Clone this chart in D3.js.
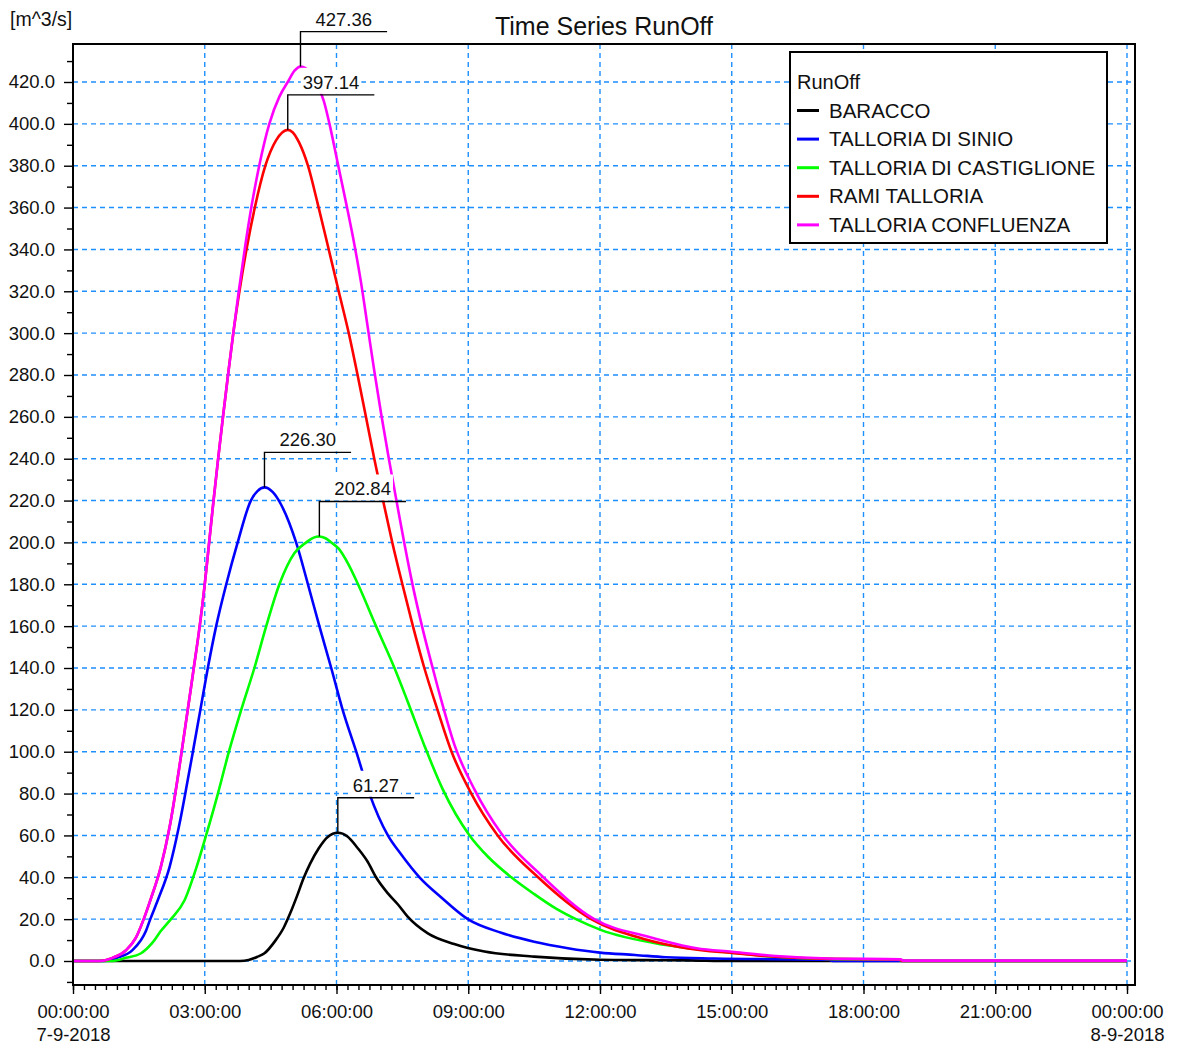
<!DOCTYPE html>
<html>
<head>
<meta charset="utf-8">
<script src="https://cdn.jsdelivr.net/npm/d3@7"></script>
<style>
  html, body { margin: 0; padding: 0; background: #fff; }
  text { font-family: "Liberation Sans", Arial, sans-serif; fill: #111; }
</style>
</head>
<body>
<div id="chart"></div>
<script>
// Time Series RunOff — hydrographs for 7-9-2018
// values (hours since 00:00, m^3/s)

const seriesNames  = ['BARACCO', 'TALLORIA DI SINIO', 'TALLORIA DI CASTIGLIONE', 'RAMI TALLORIA', 'TALLORIA CONFLUENZA'];
const seriesColors = ['#000000', '#0000ff', '#00ff00', '#ff0000', '#ff00ff'];

const baraccoT = [0, 3.8, 4.0, 4.2, 4.36, 4.6, 4.8, 4.95, 5.1, 5.25, 5.4, 5.6, 5.8, 6.03, 6.25, 6.48, 6.71, 6.9, 7.17, 7.4, 7.62, 8.08, 8.68, 9.37, 10.5, 12, 13, 14, 15, 24];
const baraccoQ = [0, 0, 0.5, 2, 3.7, 9.5, 16, 23, 31, 39.5, 46.5, 54, 59.3, 61.27, 59.5, 54, 47.4, 40, 32.3, 27, 21.2, 13.2, 8.1, 4.5, 2.1, 0.6, 0.4, 0.3, 0, 0];

const sinioT = [0, 0.7, 1.0, 1.36, 1.66, 1.76, 1.93, 2.2, 2.41, 2.6, 2.73, 2.9, 3.07, 3.26, 3.49, 3.75, 4.05, 4.2, 4.36, 4.55, 4.74, 5.08, 5.35, 5.61, 5.88, 6.14, 6.45, 6.75, 7.17, 7.47, 7.89, 8.38, 8.99, 9.75, 10.5, 11.27, 12.0, 12.8, 13.5, 14.6, 17.2, 17.3, 24];
const sinioQ = [0, 0, 1.5, 5.3, 14.3, 20, 29, 45, 64, 85, 100, 120, 140, 160, 180, 200, 220, 224.5, 226.30, 224, 218, 200, 180, 160, 140, 120, 100, 80, 60, 51, 40, 30.5, 20, 13.5, 9.2, 6.1, 4.0, 2.9, 1.8, 1.2, 0.6, 0, 0];

const castT = [0, 0.87, 1.2, 1.55, 1.8, 2.0, 2.23, 2.54, 2.8, 3.03, 3.3, 3.55, 3.83, 4.13, 4.40, 4.70, 5.04, 5.31, 5.48, 5.61, 5.75, 5.88, 6.05, 6.26, 6.49, 6.90, 7.32, 7.62, 8.0, 8.42, 9.03, 9.45, 9.98, 10.5, 11.0, 11.5, 12.0, 13.5, 14.9, 16, 17.2, 18.8, 18.9, 24];
const castQ = [0, 0, 1.5, 3.7, 8.5, 14.3, 20, 29, 44, 60, 80, 100, 120, 140, 160, 180, 194.8, 200, 202.3, 202.84, 202, 200, 197, 190, 180, 160, 140, 124, 103, 82, 60, 49.8, 40, 32, 25, 19.5, 15, 7.6, 4.2, 2.0, 1.0, 0.6, 0, 0];

const ramiT = [0, 0.6, 0.9, 1.2, 1.43, 1.61, 1.76, 2.0, 2.2, 2.46, 2.75, 2.885, 3.0, 3.10, 3.20, 3.305, 3.415, 3.53, 3.65, 3.79, 3.95, 4.14, 4.38, 4.62, 4.89, 5.0, 5.15, 5.35, 5.57, 5.8, 6.05, 6.29, 6.48, 6.67, 6.86, 7.05, 7.27, 7.5, 7.74, 8.0, 8.3, 8.62, 9.07, 9.67, 10.59, 11.8, 13, 14, 15, 16, 17.2, 18.8, 18.9, 24];
const ramiQ = [0, 0, 1.5, 5, 11, 20, 29, 45, 64, 98, 140, 160, 180, 200, 220, 240, 260, 280, 300, 320, 340, 360, 380, 392, 397.14, 396, 391, 380, 362, 342, 320, 299, 280, 260, 240, 221, 200, 180, 160, 140, 120, 100, 80, 60, 40, 20, 10.5, 6, 3.8, 2, 1, 0.7, 0, 0];

const confT = [0, 0.6, 0.9, 1.2, 1.43, 1.61, 1.76, 2.0, 2.2, 2.46, 2.75, 2.885, 3.0, 3.10, 3.20, 3.305, 3.415, 3.53, 3.65, 3.775, 3.91, 4.06, 4.24, 4.47, 4.7, 4.89, 5.05, 5.18, 5.3, 5.45, 5.6, 5.71, 5.84, 6.03, 6.22, 6.41, 6.56, 6.71, 6.86, 7.02, 7.2, 7.4, 7.55, 7.74, 7.97, 8.19, 8.38, 8.69, 9.14, 9.75, 10.66, 11.87, 13.1, 14.2, 15.0, 16.0, 17.2, 18.85, 18.9, 24];
const confQ = [0, 0, 1.5, 5, 11, 20, 29, 45, 64, 98, 140, 160, 180, 200, 220, 240, 260, 280, 300, 320, 340, 360, 380, 400, 413, 420, 425.5, 427.36, 426.5, 423, 417, 411, 400, 381, 362, 342, 324, 303, 282, 261, 239, 216, 199, 179, 158, 140, 125, 103, 82, 61, 41, 20, 11.6, 6.1, 4.4, 2.4, 1.2, 0.8, 0.2, 0.2];

const seriesTimes  = [baraccoT, sinioT, castT, ramiT, confT];
const seriesValues = [baraccoQ, sinioQ, castQ, ramiQ, confQ];

const yMajorTicks = [0, 20, 40, 60, 80, 100, 120, 140, 160, 180, 200, 220, 240, 260, 280, 300, 320, 340, 360, 380, 400, 420];
const yMinorTicks = [-10, 10, 30, 50, 70, 90, 110, 130, 150, 170, 190, 210, 230, 250, 270, 290, 310, 330, 350, 370, 390, 410, 430];

const W = 1177, H = 1048;
const FRAME = { left: 73, top: 44, right: 1135, bottom: 985 };
const GRID_COLOR = '#1e8fff';

const t0 = new Date(Date.UTC(2018, 8, 7, 0, 0, 0));
const t1 = new Date(Date.UTC(2018, 8, 8, 0, 0, 0));
const toDate = h => new Date(t0.getTime() + h * 3600e3);

const x = d3.scaleUtc().domain([t0, t1]).range([73, 1127]);
const y = d3.scaleLinear().domain([0, 420]).range([961, 82]);

const svg = d3.select('#chart').append('svg')
  .attr('width', W)
  .attr('height', H)
  .style('background', '#fff');

// ── Grid ─────────────────────────────────────────────
const grid = svg.append('g').attr('class', 'grid')
  .attr('stroke', GRID_COLOR)
  .attr('stroke-width', 1.4)
  .attr('stroke-dasharray', '5,4');

grid.selectAll('.gy')
  .data(yMajorTicks)
  .enter().append('line')
  .attr('x1', FRAME.left).attr('x2', FRAME.right)
  .attr('y1', d => y(d)).attr('y2', d => y(d));

const hourTicks = x.ticks(d3.utcHour.every(3));
grid.selectAll('.gx')
  .data(hourTicks.filter(d => +d !== +t0))
  .enter().append('line')
  .attr('x1', d => x(d)).attr('x2', d => x(d))
  .attr('y1', FRAME.top).attr('y2', FRAME.bottom);

// ── Series ───────────────────────────────────────────
const line = d3.line()
  .x(d => x(toDate(d[0])))
  .y(d => y(d[1]))
  .curve(d3.curveMonotoneX);

const seriesG = svg.append('g').attr('class', 'series');
seriesNames.forEach((name, i) => {
  const pts = d3.zip(seriesTimes[i], seriesValues[i]);
  seriesG.append('path')
    .datum(pts)
    .attr('fill', 'none')
    .attr('stroke', seriesColors[i])
    .attr('stroke-width', 2.6)
    .attr('stroke-linejoin', 'round')
    .attr('d', line);
});

// ── Frame & axes ─────────────────────────────────────
svg.append('rect')
  .attr('x', FRAME.left).attr('y', FRAME.top)
  .attr('width', FRAME.right - FRAME.left)
  .attr('height', FRAME.bottom - FRAME.top)
  .attr('fill', 'none')
  .attr('stroke', '#000')
  .attr('stroke-width', 2);

const yAxis = svg.append('g')
  .attr('transform', `translate(${FRAME.left},0)`)
  .call(d3.axisLeft(y).tickValues(yMajorTicks).tickSize(9).tickPadding(9).tickFormat(d3.format('.1f')));
const yMinor = svg.append('g')
  .attr('transform', `translate(${FRAME.left},0)`)
  .call(d3.axisLeft(y).tickValues(yMinorTicks).tickSize(6).tickFormat(''));

const xAxis = svg.append('g')
  .attr('transform', `translate(0,${FRAME.bottom})`)
  .call(d3.axisBottom(x).ticks(d3.utcHour.every(3)).tickSize(9).tickPadding(11).tickFormat(d3.utcFormat('%H:%M:%S')));
const xMinor = svg.append('g')
  .attr('transform', `translate(0,${FRAME.bottom})`)
  .call(d3.axisBottom(x).ticks(d3.utcMinute.every(15)).tickSize(5).tickFormat(''));

[yAxis, yMinor, xAxis, xMinor].forEach(g => {
  g.select('.domain').remove();
  g.attr('font-family', null).attr('font-size', null);
  g.selectAll('line').attr('stroke', '#000').attr('stroke-width', 1.4);
  g.selectAll('text').attr('font-size', 18.5).attr('fill', '#111');
});

// date line under the midnight ticks
xAxis.selectAll('.tick')
  .filter(d => d.getUTCHours() === 0)
  .append('text')
  .attr('y', 1041 - FRAME.bottom)
  .attr('text-anchor', 'middle')
  .attr('font-size', 18.5)
  .attr('fill', '#111')
  .text(d => d3.utcFormat('%-d-%-m-%Y')(d));

// ── Titles ───────────────────────────────────────────
svg.append('text')
  .attr('x', 604).attr('y', 35)
  .attr('text-anchor', 'middle')
  .attr('font-size', 25)
  .text('Time Series RunOff');

svg.append('text')
  .attr('x', 10).attr('y', 26)
  .attr('font-size', 19.5)
  .text('[m^3/s]');

// ── Peak labels ──────────────────────────────────────
const peakG = svg.append('g').attr('class', 'peaks');
seriesNames.forEach((name, i) => {
  const vals = seriesValues[i];
  const k = d3.maxIndex(vals);
  const px = x(toDate(seriesTimes[i][k]));
  const py = y(vals[k]);
  const ly = py - 35;

  const g = peakG.append('g');
  const txt = g.append('text')
    .attr('font-size', 18.5)
    .attr('text-anchor', 'middle')
    .text(vals[k].toFixed(2));
  const tw = txt.node().getComputedTextLength();
  const len = tw + 30;
  txt.attr('x', px + len / 2).attr('y', ly - 6);

  g.insert('rect', 'text')
    .attr('x', px + len / 2 - tw / 2 - 2)
    .attr('y', ly - 27)
    .attr('width', tw + 4)
    .attr('height', 26)
    .attr('fill', '#fff');

  g.append('path')
    .attr('d', `M${px},${py}V${ly}H${px + len}`)
    .attr('fill', 'none')
    .attr('stroke', '#000')
    .attr('stroke-width', 1.4);
});

// ── Legend ───────────────────────────────────────────
const legend = svg.append('g').attr('class', 'legend');
legend.append('rect')
  .attr('x', 790).attr('y', 52)
  .attr('width', 317).attr('height', 191)
  .attr('fill', '#fff')
  .attr('stroke', '#000')
  .attr('stroke-width', 2);

legend.append('text')
  .attr('x', 797).attr('y', 89)
  .attr('font-size', 20)
  .text('RunOff');

seriesNames.forEach((name, i) => {
  const by = 117.5 + i * 28.6;
  legend.append('line')
    .attr('x1', 797).attr('x2', 819)
    .attr('y1', by - 7).attr('y2', by - 7)
    .attr('stroke', seriesColors[i])
    .attr('stroke-width', 3);
  legend.append('text')
    .attr('x', 829).attr('y', by)
    .attr('font-size', 20.5)
    .text(name);
});
</script>
</body>
</html>
